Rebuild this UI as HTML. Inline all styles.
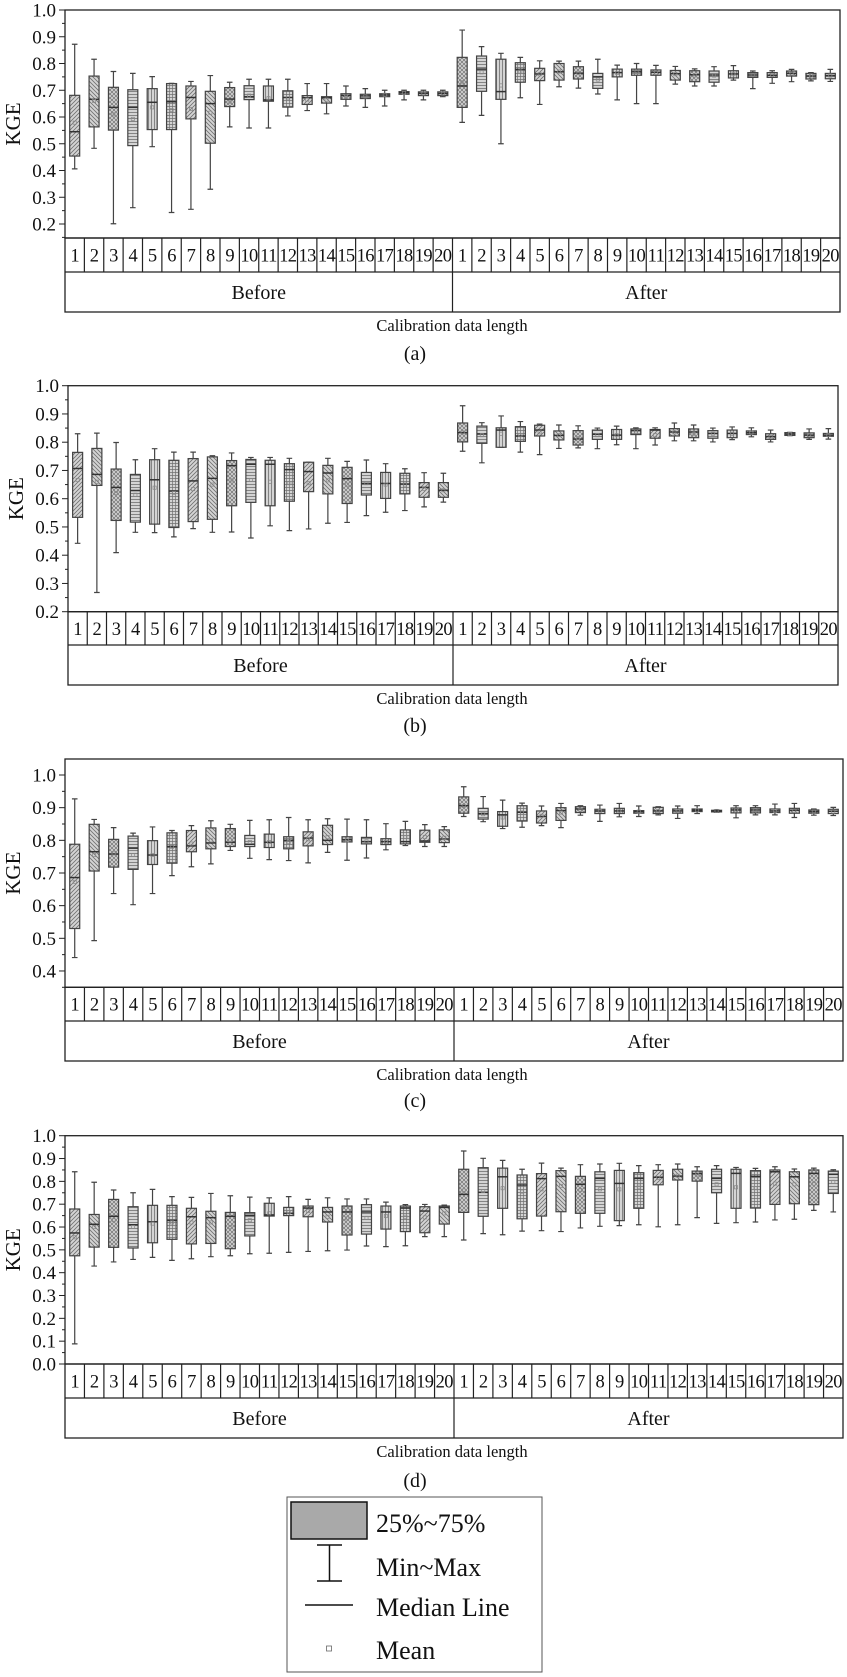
<!DOCTYPE html>
<html><head><meta charset="utf-8">
<style>
html,body{margin:0;padding:0;background:#fff;}
svg{display:block;font-family:"Liberation Serif",serif;}
</style></head>
<body>
<svg id="chart" width="847" height="1677" viewBox="0 0 847 1677" xmlns="http://www.w3.org/2000/svg">
<defs>
<pattern id="p0" width="4" height="4" patternUnits="userSpaceOnUse"><rect width="4" height="4" fill="#d4d4d4"/><path d="M-1,1 l2,-2 M0,4 l4,-4 M3,5 l2,-2" stroke="#707070" stroke-width="0.8"/></pattern>
<pattern id="p1" width="4" height="4" patternUnits="userSpaceOnUse"><rect width="4" height="4" fill="#d4d4d4"/><path d="M-1,3 l2,2 M0,0 l4,4 M3,-1 l2,2" stroke="#707070" stroke-width="0.8"/></pattern>
<pattern id="p2" width="4" height="4" patternUnits="userSpaceOnUse"><rect width="4" height="4" fill="#d4d4d4"/><path d="M0,0 l4,4 M4,0 l-4,4" stroke="#707070" stroke-width="0.7"/></pattern>
<pattern id="p3" width="4" height="3" patternUnits="userSpaceOnUse"><rect width="4" height="3" fill="#d4d4d4"/><path d="M0,1.5 h4" stroke="#707070" stroke-width="0.8"/></pattern>
<pattern id="p4" width="3" height="4" patternUnits="userSpaceOnUse"><rect width="3" height="4" fill="#d4d4d4"/><path d="M1.5,0 v4" stroke="#707070" stroke-width="0.8"/></pattern>
<pattern id="p5" width="3" height="3" patternUnits="userSpaceOnUse"><rect width="3" height="3" fill="#d4d4d4"/><path d="M1.5,0 v3 M0,1.5 h3" stroke="#707070" stroke-width="0.7"/></pattern>
</defs>
<g id="panels"></g>
<g>
<rect x="287" y="1497" width="255" height="175" fill="#fff" stroke="#555" stroke-width="1"/>
<rect x="291" y="1502" width="76" height="37" fill="#a9a9a9" stroke="#111" stroke-width="1.5"/>
<text x="376" y="1532" font-size="26" fill="#111">25%~75%</text>
<path d="M317,1545 h25 M329.5,1545 v36 M317,1581 h25" stroke="#111" stroke-width="1.5" fill="none"/>
<text x="376" y="1576" font-size="26" fill="#111">Min~Max</text>
<path d="M305,1605 h48" stroke="#111" stroke-width="1.5"/>
<text x="376" y="1616" font-size="26" fill="#111">Median Line</text>
<rect x="326.5" y="1646" width="5" height="5" fill="none" stroke="#666" stroke-width="0.8"/>
<text x="376" y="1659" font-size="26" fill="#111">Mean</text>
</g>
</svg>
<script>
const categories = ["1","2","3","4","5","6","7","8","9","10","11","12","13","14","15","16","17","18","19","20"];
const groups = ["Before","After"];

const aMax = [0.872,0.816,0.77,0.763,0.751,0.726,0.733,0.755,0.73,0.741,0.741,0.741,0.725,0.725,0.716,0.706,0.70,0.70,0.70,0.70, 0.925,0.863,0.838,0.823,0.81,0.809,0.809,0.816,0.794,0.80,0.793,0.789,0.78,0.788,0.792,0.772,0.773,0.778,0.766,0.778];
const aQ3 = [0.681,0.753,0.711,0.702,0.706,0.725,0.716,0.696,0.71,0.717,0.716,0.698,0.68,0.676,0.687,0.685,0.687,0.695,0.694,0.694, 0.823,0.828,0.816,0.803,0.782,0.80,0.788,0.763,0.779,0.779,0.776,0.774,0.773,0.772,0.773,0.766,0.766,0.772,0.763,0.763];
const aMed = [0.545,0.666,0.636,0.636,0.655,0.657,0.673,0.65,0.667,0.676,0.664,0.673,0.672,0.672,0.68,0.679,0.682,0.691,0.688,0.688, 0.716,0.779,0.695,0.778,0.761,0.769,0.764,0.75,0.766,0.769,0.767,0.762,0.758,0.757,0.761,0.757,0.756,0.763,0.753,0.755];
const aQ1 = [0.454,0.563,0.551,0.493,0.553,0.553,0.593,0.502,0.639,0.665,0.659,0.637,0.647,0.652,0.666,0.669,0.676,0.685,0.68,0.68, 0.636,0.696,0.666,0.73,0.736,0.738,0.742,0.707,0.75,0.756,0.756,0.738,0.732,0.73,0.746,0.748,0.748,0.753,0.742,0.743];
const aMin = [0.406,0.483,0.201,0.261,0.489,0.243,0.255,0.33,0.563,0.559,0.559,0.604,0.624,0.612,0.641,0.636,0.641,0.664,0.664,0.676, 0.58,0.606,0.50,0.672,0.647,0.713,0.708,0.686,0.664,0.65,0.65,0.723,0.716,0.716,0.738,0.706,0.726,0.732,0.735,0.733];
const aMean = [0.579,0.66,0.61,0.593,0.636,0.626,0.63,0.616,0.657,0.68,0.67,0.67,0.665,0.665,0.676,0.677,0.683,0.69,0.688,0.688, 0.73,0.767,0.718,0.77,0.76,0.77,0.765,0.74,0.765,0.768,0.765,0.76,0.755,0.755,0.76,0.757,0.757,0.762,0.755,0.755];

const bMax = [0.83,0.832,0.799,0.738,0.777,0.765,0.765,0.752,0.762,0.746,0.746,0.743,0.729,0.743,0.732,0.737,0.724,0.706,0.692,0.69, 0.929,0.869,0.893,0.873,0.864,0.861,0.858,0.85,0.857,0.851,0.851,0.868,0.861,0.85,0.854,0.851,0.843,0.835,0.847,0.848];
const bQ3 = [0.764,0.778,0.705,0.686,0.738,0.736,0.742,0.748,0.735,0.739,0.736,0.724,0.729,0.718,0.711,0.693,0.693,0.69,0.657,0.657, 0.868,0.857,0.851,0.855,0.86,0.84,0.841,0.843,0.845,0.847,0.845,0.848,0.847,0.841,0.843,0.84,0.83,0.834,0.833,0.831];
const bMed = [0.707,0.686,0.64,0.629,0.667,0.627,0.663,0.672,0.717,0.722,0.722,0.703,0.696,0.691,0.671,0.654,0.654,0.652,0.64,0.63, 0.834,0.829,0.843,0.822,0.843,0.824,0.811,0.828,0.825,0.841,0.843,0.836,0.836,0.831,0.831,0.834,0.82,0.829,0.825,0.825];
const bQ1 = [0.534,0.647,0.523,0.517,0.51,0.498,0.519,0.527,0.575,0.587,0.575,0.591,0.625,0.617,0.583,0.613,0.601,0.617,0.605,0.605, 0.801,0.796,0.782,0.803,0.822,0.808,0.79,0.81,0.81,0.827,0.814,0.822,0.816,0.814,0.816,0.827,0.81,0.824,0.816,0.821];
const bMin = [0.442,0.268,0.409,0.481,0.48,0.465,0.494,0.481,0.482,0.461,0.504,0.487,0.493,0.513,0.516,0.54,0.552,0.558,0.571,0.588, 0.768,0.727,0.782,0.765,0.756,0.778,0.78,0.777,0.791,0.777,0.79,0.805,0.805,0.801,0.809,0.819,0.801,0.823,0.81,0.811];
const bMean = [0.666,0.66,0.62,0.614,0.639,0.62,0.634,0.65,0.665,0.666,0.66,0.655,0.655,0.665,0.65,0.655,0.65,0.65,0.635,0.63, 0.835,0.825,0.83,0.825,0.835,0.825,0.815,0.825,0.825,0.838,0.825,0.835,0.83,0.83,0.83,0.834,0.818,0.829,0.825,0.825];

const cMax = [0.927,0.864,0.839,0.822,0.841,0.83,0.845,0.86,0.849,0.861,0.863,0.87,0.863,0.866,0.865,0.863,0.851,0.858,0.848,0.842, 0.964,0.934,0.923,0.914,0.905,0.913,0.906,0.908,0.913,0.905,0.903,0.905,0.906,0.893,0.906,0.906,0.911,0.913,0.896,0.901];
const cQ3 = [0.788,0.849,0.803,0.813,0.799,0.823,0.83,0.838,0.836,0.815,0.819,0.811,0.826,0.846,0.811,0.809,0.805,0.832,0.831,0.832, 0.933,0.898,0.888,0.906,0.89,0.90,0.903,0.895,0.898,0.891,0.901,0.896,0.896,0.892,0.899,0.90,0.896,0.898,0.893,0.895];
const cMed = [0.686,0.765,0.758,0.776,0.755,0.781,0.783,0.792,0.794,0.788,0.794,0.80,0.807,0.80,0.802,0.796,0.796,0.796,0.798,0.804, 0.906,0.882,0.878,0.886,0.873,0.891,0.896,0.89,0.89,0.888,0.89,0.89,0.892,0.89,0.893,0.893,0.89,0.892,0.888,0.889];
const cQ1 = [0.53,0.706,0.718,0.711,0.726,0.73,0.765,0.774,0.781,0.781,0.778,0.774,0.783,0.787,0.795,0.789,0.787,0.789,0.794,0.793, 0.883,0.865,0.843,0.859,0.853,0.861,0.885,0.882,0.882,0.883,0.882,0.883,0.888,0.887,0.884,0.884,0.885,0.883,0.883,0.882];
const cMin = [0.441,0.493,0.637,0.603,0.637,0.692,0.719,0.728,0.769,0.745,0.741,0.738,0.731,0.763,0.739,0.746,0.771,0.784,0.781,0.781, 0.873,0.857,0.836,0.84,0.845,0.839,0.877,0.858,0.872,0.873,0.878,0.867,0.882,0.886,0.869,0.878,0.878,0.87,0.877,0.876];
const cMean = [0.673,0.755,0.76,0.755,0.755,0.78,0.79,0.80,0.80,0.795,0.795,0.795,0.803,0.81,0.80,0.797,0.795,0.81,0.81,0.808, 0.905,0.88,0.87,0.885,0.875,0.885,0.893,0.89,0.89,0.888,0.89,0.89,0.892,0.89,0.892,0.893,0.89,0.89,0.888,0.888];

const dMax = [0.842,0.796,0.762,0.75,0.765,0.733,0.73,0.747,0.737,0.731,0.728,0.733,0.721,0.728,0.723,0.723,0.709,0.698,0.699,0.696, 0.933,0.901,0.892,0.853,0.88,0.858,0.873,0.876,0.879,0.869,0.873,0.876,0.864,0.869,0.861,0.857,0.864,0.854,0.858,0.851];
const dQ3 = [0.679,0.655,0.721,0.689,0.695,0.695,0.682,0.669,0.664,0.663,0.704,0.686,0.692,0.686,0.692,0.698,0.692,0.692,0.689,0.692, 0.853,0.86,0.858,0.828,0.834,0.847,0.822,0.842,0.848,0.838,0.848,0.853,0.845,0.853,0.853,0.847,0.85,0.842,0.85,0.845];
const dMed = [0.574,0.612,0.647,0.61,0.623,0.629,0.645,0.641,0.647,0.651,0.653,0.66,0.683,0.666,0.666,0.666,0.666,0.683,0.67,0.686, 0.743,0.752,0.82,0.784,0.812,0.822,0.787,0.813,0.791,0.813,0.818,0.823,0.834,0.813,0.835,0.822,0.842,0.82,0.835,0.831];
const dQ1 = [0.474,0.512,0.511,0.508,0.531,0.546,0.526,0.528,0.505,0.561,0.648,0.65,0.645,0.622,0.565,0.569,0.591,0.58,0.575,0.613, 0.664,0.647,0.682,0.636,0.648,0.667,0.66,0.66,0.628,0.682,0.785,0.806,0.801,0.75,0.682,0.683,0.699,0.702,0.698,0.747];
const dMin = [0.088,0.429,0.447,0.458,0.467,0.454,0.461,0.47,0.474,0.483,0.485,0.489,0.493,0.496,0.499,0.517,0.514,0.518,0.558,0.558, 0.543,0.571,0.566,0.582,0.584,0.58,0.596,0.603,0.606,0.61,0.601,0.61,0.641,0.616,0.619,0.622,0.631,0.634,0.673,0.666];
const dMean = [0.555,0.60,0.63,0.60,0.615,0.62,0.62,0.62,0.60,0.63,0.66,0.665,0.67,0.645,0.638,0.64,0.648,0.645,0.642,0.66, 0.76,0.758,0.77,0.755,0.765,0.78,0.762,0.765,0.765,0.777,0.815,0.825,0.83,0.787,0.774,0.77,0.79,0.787,0.79,0.798];

const ticksAB = ["0.2","0.3","0.4","0.5","0.6","0.7","0.8","0.9","1.0"];
const ticksC = ["0.4","0.5","0.6","0.7","0.8","0.9","1.0"];
const ticksD = ["0.0","0.1","0.2","0.3","0.4","0.5","0.6","0.7","0.8","0.9","1.0"];

const NS = "http://www.w3.org/2000/svg";
const root = document.getElementById("panels");
function mk(tag, attrs, parent){
  const e = document.createElementNS(NS, tag);
  for (const k in attrs) e.setAttribute(k, attrs[k]);
  parent.appendChild(e);
  return e;
}
const patSeq = ["p0","p1","p2","p3","p4","p5"];

function drawPanel(L, cfg){
  const g = mk("g", {}, root);
  
  
  const yS = v => cfg.top + (cfg.vTop - v) / (cfg.vTop - cfg.vBot) * (cfg.bottom - cfg.top);
  const n = categories.length * groups.length;
  const colW = (cfg.right - cfg.left) / n;
  const xS = i => cfg.left + (i + 0.5) * colW;
  // ticks
  const axis = mk("g", {}, g);
  
  
  L.ticks.forEach(t => {
    const v = parseFloat(t);
    const y = yS(v);
    mk("line", {x1: cfg.left - 6, x2: cfg.left, y1: y, y2: y, stroke: "#222", "stroke-width": 1}, axis);
    const tx = mk("text", {x: cfg.left - 9, y: y + 6.5, "font-size": 19, "text-anchor": "end", fill: "#111"}, axis);
    tx.textContent = t;
    
    
    const ym = yS(v - 0.05);
    if (ym <= cfg.bottom + 0.5) mk("line", {x1: cfg.left - 3, x2: cfg.left, y1: ym, y2: ym, stroke: "#222", "stroke-width": 1}, axis);
  });
  const yt = mk("text", {x: 0, y: 0, "font-size": 21, "text-anchor": "middle", fill: "#111",
    transform: `translate(${cfg.left - 45},${(cfg.top + cfg.bottom) / 2}) rotate(-90)`}, g);
  yt.textContent = "KGE";
  
  
  // boxes
  for (let i = 0; i < n; i++){
    const cx = xS(i);
    const bg = mk("g", {}, g);
    
    
    const yMax = yS(L.max[i]), yMin = yS(L.min[i]), yQ3 = yS(L.q3[i]), yQ1 = yS(L.q1[i]);
    const st = {stroke: "#444", "stroke-width": 1.2, fill: "none"};
    mk("path", Object.assign({d: `M${cx},${yQ3} V${yMax} M${cx - 2.8},${yMax} H${cx + 2.8} M${cx},${yQ1} V${yMin} M${cx - 2.8},${yMin} H${cx + 2.8}`}, st), bg);
    mk("rect", {x: cx - 5, y: yQ3, width: 10, height: Math.max(1, yQ1 - yQ3), fill: `url(#${patSeq[i % 6]})`, stroke: "#444", "stroke-width": 1.2}, bg);
    const ym = yS(L.med[i]);
    mk("line", {x1: cx - 5, x2: cx + 5, y1: ym, y2: ym, stroke: "#333", "stroke-width": 1.5}, bg);
    const yMean = yS(L.mean[i]);
    mk("rect", {x: cx - 1.6, y: yMean - 1.6, width: 3.2, height: 3.2, fill: "none", stroke: "#888", "stroke-width": 0.7}, bg);
  }
  // frame
  mk("rect", {x: cfg.left, y: cfg.top, width: cfg.right - cfg.left, height: cfg.bottom - cfg.top, fill: "none", stroke: "#222", "stroke-width": 1.3}, g);
  // category row
  const cat = mk("g", {}, g);
  
  
  mk("rect", {x: cfg.left, y: cfg.bottom, width: cfg.right - cfg.left, height: cfg.grp - cfg.bottom, fill: "none", stroke: "#222", "stroke-width": 1.3}, cat);
  mk("line", {x1: cfg.left, x2: cfg.right, y1: cfg.cat, y2: cfg.cat, stroke: "#222", "stroke-width": 1.3}, cat);
  for (let i = 0; i < n; i++){
    if (i > 0) mk("line", {x1: cfg.left + i * colW, x2: cfg.left + i * colW, y1: cfg.bottom, y2: i === 20 ? cfg.grp : cfg.cat, stroke: "#222", "stroke-width": 1.2}, cat);
    const t = mk("text", {x: xS(i), y: (cfg.bottom + cfg.cat) / 2 + 6.5, "font-size": 18.5, "text-anchor": "middle", fill: "#111", "letter-spacing": -0.6}, cat);
    t.textContent = categories[i % 20];
    
    
  }
  groups.forEach((gr, k) => {
    const t = mk("text", {x: cfg.left + (cfg.right - cfg.left) * (k * 2 + 1) / 4, y: (cfg.cat + cfg.grp) / 2 + 7, "font-size": 20, "text-anchor": "middle", fill: "#111"}, cat);
    t.textContent = gr;
    
    
  });
  const xt = mk("text", {x: 452, y: cfg.lab, "font-size": 16.5, "text-anchor": "middle", fill: "#111"}, g);
  xt.textContent = "Calibration data length";
  
  
  const cap = mk("text", {x: 415, y: cfg.cap, "font-size": 20, "text-anchor": "middle", fill: "#111"}, g);
  cap.textContent = "(" + L.id + ")";
  
  
}

drawPanel({id: "a", max: aMax, q3: aQ3, med: aMed, q1: aQ1, min: aMin, mean: aMean, ticks: ticksAB},
  {left: 65, right: 840, top: 10, bottom: 238, vTop: 1.0, vBot: 0.1477, cat: 272, grp: 312, lab: 331, cap: 360});
drawPanel({id: "b", max: bMax, q3: bQ3, med: bMed, q1: bQ1, min: bMin, mean: bMean, ticks: ticksAB},
  {left: 68, right: 838, top: 385.7, bottom: 611.7, vTop: 1.0, vBot: 0.2, cat: 645, grp: 685, lab: 704, cap: 732});
drawPanel({id: "c", max: cMax, q3: cQ3, med: cMed, q1: cQ1, min: cMin, mean: cMean, ticks: ticksC},
  {left: 65, right: 843, top: 759, bottom: 987.3, vTop: 1.049, vBot: 0.35, cat: 1021, grp: 1061, lab: 1080, cap: 1107});
drawPanel({id: "d", max: dMax, q3: dQ3, med: dMed, q1: dQ1, min: dMin, mean: dMean, ticks: ticksD},
  {left: 65, right: 843, top: 1135.7, bottom: 1364, vTop: 1.0, vBot: 0.0, cat: 1398, grp: 1438, lab: 1457, cap: 1487});
</script>
</body></html>
